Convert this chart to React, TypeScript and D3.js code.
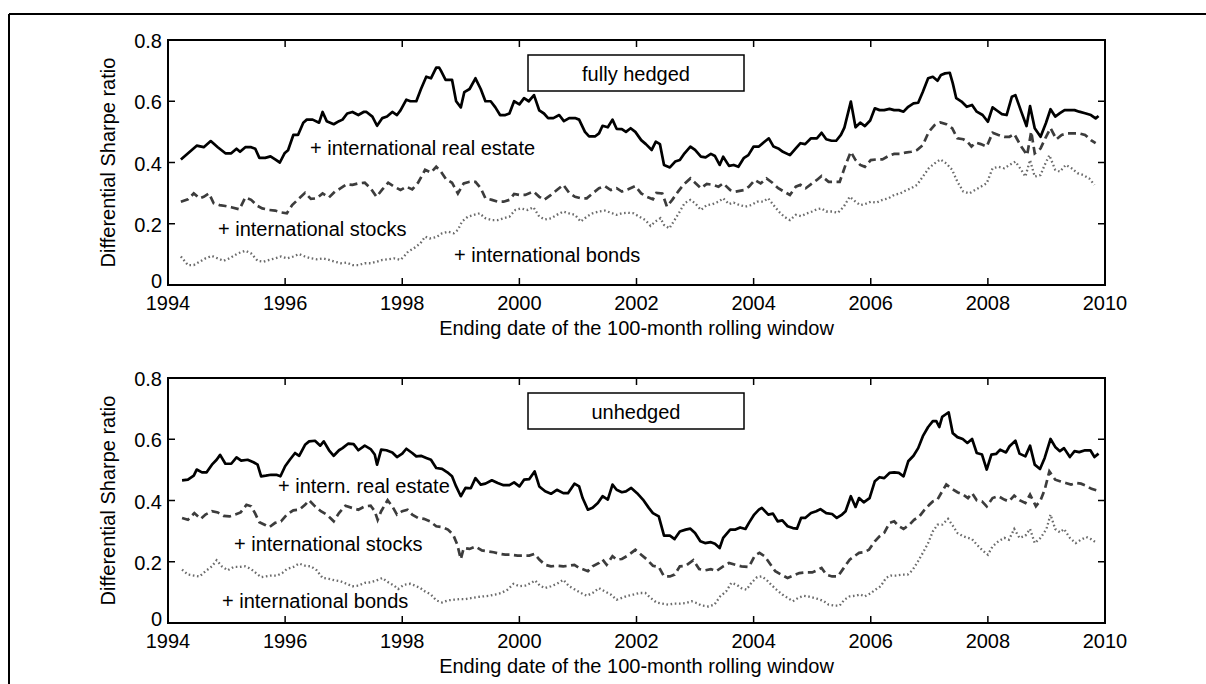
import * as d3 from "d3"

// x ticks (years) and y ticks (Sharpe ratio)
const xTicks = [1994, 1996, 1998, 2000, 2002, 2004, 2006, 2008, 2010]
const yTicks = [0, 0.2, 0.4, 0.6, 0.8]

// fully hedged panel: [ending date, differential Sharpe ratio]
const hedgedRealEstate: [number, number][] = [
  [1994.22, 0.41], [1994.49, 0.455], [1994.61, 0.45], [1994.73, 0.47], [1994.85, 0.45], [1994.98, 0.43],
  [1995.08, 0.43], [1995.17, 0.445], [1995.23, 0.435], [1995.32, 0.45], [1995.42, 0.45], [1995.49, 0.445],
  [1995.56, 0.415], [1995.66, 0.415], [1995.75, 0.42], [1995.83, 0.41], [1995.91, 0.4], [1995.99, 0.43],
  [1996.05, 0.44], [1996.14, 0.49], [1996.22, 0.49], [1996.31, 0.53], [1996.37, 0.54], [1996.47, 0.54],
  [1996.58, 0.53], [1996.64, 0.565], [1996.71, 0.535], [1996.83, 0.525], [1996.92, 0.535], [1996.98, 0.54],
  [1997.06, 0.56], [1997.15, 0.565], [1997.25, 0.555], [1997.34, 0.565], [1997.39, 0.565], [1997.49, 0.55],
  [1997.57, 0.52], [1997.66, 0.545], [1997.74, 0.55], [1997.83, 0.565], [1997.91, 0.555], [1997.97, 0.57],
  [1998.07, 0.605], [1998.14, 0.6], [1998.24, 0.6], [1998.32, 0.64], [1998.41, 0.68], [1998.49, 0.675],
  [1998.58, 0.71], [1998.63, 0.71], [1998.66, 0.7], [1998.74, 0.67], [1998.85, 0.67], [1998.92, 0.6],
  [1999.0, 0.58], [1999.06, 0.63], [1999.15, 0.64], [1999.25, 0.675], [1999.34, 0.64], [1999.42, 0.6],
  [1999.51, 0.6], [1999.59, 0.58], [1999.67, 0.555], [1999.76, 0.555], [1999.83, 0.56], [1999.91, 0.6],
  [2000.0, 0.59], [2000.08, 0.61], [2000.16, 0.6], [2000.25, 0.62], [2000.34, 0.57], [2000.42, 0.56],
  [2000.49, 0.545], [2000.58, 0.545], [2000.68, 0.555], [2000.76, 0.535], [2000.85, 0.545], [2000.95, 0.545],
  [2001.02, 0.54], [2001.12, 0.5], [2001.19, 0.485], [2001.29, 0.485], [2001.36, 0.495], [2001.42, 0.52],
  [2001.51, 0.515], [2001.59, 0.54], [2001.66, 0.51], [2001.75, 0.509], [2001.82, 0.5], [2001.9, 0.512],
  [2001.98, 0.5], [2002.08, 0.473], [2002.16, 0.46], [2002.26, 0.441], [2002.33, 0.468], [2002.4, 0.46],
  [2002.47, 0.392], [2002.57, 0.384], [2002.66, 0.403], [2002.74, 0.408], [2002.82, 0.43], [2002.92, 0.452],
  [2003.0, 0.441], [2003.1, 0.419], [2003.18, 0.417], [2003.27, 0.428], [2003.34, 0.421], [2003.42, 0.392],
  [2003.48, 0.419], [2003.58, 0.389], [2003.66, 0.392], [2003.74, 0.386], [2003.83, 0.414], [2003.91, 0.424],
  [2004.0, 0.452], [2004.09, 0.452], [2004.17, 0.465], [2004.26, 0.479], [2004.34, 0.452], [2004.42, 0.446],
  [2004.5, 0.435], [2004.62, 0.424], [2004.72, 0.446], [2004.8, 0.463], [2004.88, 0.46], [2004.98, 0.479],
  [2005.08, 0.479], [2005.16, 0.497], [2005.24, 0.476], [2005.33, 0.471], [2005.41, 0.471], [2005.49, 0.49],
  [2005.55, 0.514], [2005.66, 0.599], [2005.74, 0.515], [2005.82, 0.53], [2005.9, 0.519], [2005.99, 0.537],
  [2006.07, 0.577], [2006.15, 0.571], [2006.23, 0.571], [2006.32, 0.575], [2006.4, 0.571], [2006.48, 0.571],
  [2006.56, 0.566], [2006.64, 0.582], [2006.73, 0.593], [2006.81, 0.595], [2006.89, 0.631], [2006.98, 0.675],
  [2007.06, 0.68], [2007.14, 0.667], [2007.2, 0.686], [2007.27, 0.691], [2007.35, 0.693], [2007.4, 0.659],
  [2007.46, 0.61], [2007.55, 0.599], [2007.64, 0.582], [2007.73, 0.588], [2007.81, 0.566], [2007.91, 0.555],
  [2008.0, 0.533], [2008.08, 0.58], [2008.16, 0.569], [2008.24, 0.558], [2008.32, 0.555], [2008.41, 0.615],
  [2008.47, 0.62], [2008.57, 0.566], [2008.66, 0.519], [2008.72, 0.584], [2008.8, 0.512], [2008.9, 0.484],
  [2008.99, 0.528], [2009.07, 0.574], [2009.15, 0.55], [2009.23, 0.561], [2009.31, 0.571], [2009.4, 0.571],
  [2009.48, 0.571], [2009.56, 0.566], [2009.66, 0.561], [2009.76, 0.555], [2009.84, 0.544], [2009.89, 0.552],
]

const hedgedStocks: [number, number][] = [
  [1994.22, 0.272], [1994.34, 0.28], [1994.44, 0.299], [1994.54, 0.283], [1994.61, 0.288], [1994.7, 0.299],
  [1994.78, 0.267], [1994.88, 0.261], [1994.98, 0.258], [1995.08, 0.254], [1995.22, 0.247], [1995.32, 0.286],
  [1995.42, 0.278], [1995.53, 0.258], [1995.61, 0.25], [1995.73, 0.245], [1995.83, 0.243], [1995.93, 0.237],
  [1996.03, 0.234], [1996.12, 0.261], [1996.24, 0.283], [1996.34, 0.301], [1996.44, 0.281], [1996.54, 0.283],
  [1996.64, 0.299], [1996.75, 0.286], [1996.85, 0.305], [1996.95, 0.316], [1997.05, 0.329], [1997.15, 0.327],
  [1997.25, 0.332], [1997.36, 0.334], [1997.46, 0.316], [1997.56, 0.288], [1997.66, 0.312], [1997.76, 0.334],
  [1997.86, 0.321], [1997.97, 0.31], [1998.07, 0.321], [1998.17, 0.312], [1998.27, 0.334], [1998.39, 0.376],
  [1998.49, 0.367], [1998.58, 0.386], [1998.66, 0.37], [1998.75, 0.345], [1998.85, 0.334], [1998.95, 0.299],
  [1999.05, 0.332], [1999.15, 0.337], [1999.25, 0.337], [1999.34, 0.316], [1999.42, 0.283], [1999.53, 0.278],
  [1999.63, 0.272], [1999.73, 0.272], [1999.83, 0.278], [1999.91, 0.297], [2000.0, 0.294], [2000.1, 0.294],
  [2000.24, 0.305], [2000.34, 0.288], [2000.42, 0.278], [2000.54, 0.294], [2000.64, 0.31], [2000.75, 0.327],
  [2000.85, 0.301], [2000.95, 0.288], [2001.05, 0.283], [2001.15, 0.283], [2001.25, 0.299], [2001.36, 0.316],
  [2001.46, 0.323], [2001.56, 0.31], [2001.66, 0.316], [2001.75, 0.305], [2001.85, 0.312], [2001.98, 0.323],
  [2002.08, 0.299], [2002.18, 0.288], [2002.28, 0.28], [2002.34, 0.301], [2002.44, 0.299], [2002.52, 0.256],
  [2002.61, 0.278], [2002.71, 0.305], [2002.8, 0.327], [2002.92, 0.348], [2003.0, 0.334], [2003.1, 0.316],
  [2003.2, 0.33], [2003.3, 0.327], [2003.4, 0.321], [2003.48, 0.332], [2003.6, 0.31], [2003.69, 0.305],
  [2003.83, 0.31], [2003.92, 0.321], [2004.02, 0.343], [2004.12, 0.332], [2004.22, 0.348], [2004.32, 0.334],
  [2004.42, 0.316], [2004.52, 0.305], [2004.62, 0.294], [2004.72, 0.321], [2004.8, 0.327], [2004.89, 0.316],
  [2005.0, 0.332], [2005.08, 0.343], [2005.16, 0.356], [2005.28, 0.337], [2005.38, 0.337], [2005.47, 0.337],
  [2005.57, 0.392], [2005.66, 0.435], [2005.74, 0.408], [2005.82, 0.392], [2005.9, 0.386], [2006.0, 0.408],
  [2006.1, 0.41], [2006.2, 0.41], [2006.3, 0.421], [2006.4, 0.428], [2006.5, 0.428], [2006.59, 0.432],
  [2006.69, 0.435], [2006.79, 0.441], [2006.89, 0.457], [2006.99, 0.5], [2007.09, 0.522], [2007.19, 0.531],
  [2007.29, 0.525], [2007.39, 0.512], [2007.48, 0.479], [2007.58, 0.476], [2007.65, 0.468], [2007.72, 0.452],
  [2007.79, 0.465], [2007.88, 0.46], [2007.98, 0.452], [2008.08, 0.497], [2008.18, 0.49], [2008.28, 0.484],
  [2008.37, 0.484], [2008.45, 0.493], [2008.57, 0.452], [2008.67, 0.424], [2008.74, 0.501], [2008.8, 0.43],
  [2008.9, 0.446], [2008.98, 0.479], [2009.07, 0.512], [2009.17, 0.476], [2009.26, 0.49], [2009.36, 0.495],
  [2009.46, 0.495], [2009.56, 0.495], [2009.66, 0.49], [2009.76, 0.473], [2009.84, 0.463],
]

const hedgedBonds: [number, number][] = [
  [1994.22, 0.093], [1994.34, 0.065], [1994.44, 0.065], [1994.54, 0.076], [1994.64, 0.087], [1994.75, 0.095],
  [1994.85, 0.087], [1994.95, 0.079], [1995.05, 0.087], [1995.19, 0.103], [1995.32, 0.112], [1995.42, 0.103],
  [1995.53, 0.079], [1995.63, 0.076], [1995.73, 0.082], [1995.83, 0.087], [1995.93, 0.093], [1996.03, 0.087],
  [1996.14, 0.093], [1996.24, 0.101], [1996.34, 0.093], [1996.44, 0.087], [1996.54, 0.084], [1996.64, 0.087],
  [1996.75, 0.082], [1996.85, 0.076], [1996.95, 0.071], [1997.05, 0.073], [1997.15, 0.065], [1997.25, 0.065],
  [1997.36, 0.071], [1997.46, 0.071], [1997.56, 0.076], [1997.66, 0.082], [1997.76, 0.084], [1997.86, 0.087],
  [1997.97, 0.082], [1998.03, 0.093], [1998.1, 0.109], [1998.2, 0.12], [1998.31, 0.136], [1998.39, 0.158],
  [1998.47, 0.152], [1998.58, 0.156], [1998.68, 0.169], [1998.78, 0.174], [1998.88, 0.169], [1998.95, 0.18],
  [1999.02, 0.207], [1999.12, 0.223], [1999.22, 0.229], [1999.32, 0.234], [1999.42, 0.218], [1999.53, 0.212],
  [1999.63, 0.212], [1999.73, 0.218], [1999.83, 0.223], [1999.93, 0.245], [2000.03, 0.25], [2000.14, 0.245],
  [2000.24, 0.254], [2000.34, 0.223], [2000.44, 0.214], [2000.54, 0.218], [2000.64, 0.229], [2000.75, 0.24],
  [2000.85, 0.234], [2000.95, 0.229], [2001.05, 0.207], [2001.15, 0.223], [2001.25, 0.234], [2001.36, 0.24],
  [2001.46, 0.243], [2001.56, 0.236], [2001.66, 0.229], [2001.75, 0.234], [2001.85, 0.236], [2001.95, 0.234],
  [2002.05, 0.223], [2002.15, 0.212], [2002.24, 0.193], [2002.32, 0.207], [2002.41, 0.218], [2002.47, 0.196],
  [2002.56, 0.185], [2002.65, 0.212], [2002.74, 0.24], [2002.82, 0.267], [2002.92, 0.278], [2003.0, 0.267],
  [2003.1, 0.245], [2003.2, 0.261], [2003.3, 0.264], [2003.4, 0.272], [2003.48, 0.283], [2003.58, 0.264],
  [2003.66, 0.269], [2003.76, 0.261], [2003.86, 0.256], [2003.96, 0.261], [2004.06, 0.272], [2004.16, 0.272],
  [2004.25, 0.283], [2004.34, 0.261], [2004.43, 0.24], [2004.52, 0.223], [2004.62, 0.212], [2004.72, 0.229],
  [2004.81, 0.225], [2004.91, 0.234], [2005.0, 0.24], [2005.08, 0.247], [2005.16, 0.25], [2005.24, 0.24],
  [2005.34, 0.24], [2005.44, 0.236], [2005.54, 0.256], [2005.64, 0.288], [2005.74, 0.272], [2005.82, 0.261],
  [2005.9, 0.264], [2006.0, 0.272], [2006.1, 0.269], [2006.2, 0.278], [2006.3, 0.283], [2006.4, 0.294],
  [2006.5, 0.299], [2006.59, 0.308], [2006.69, 0.316], [2006.79, 0.327], [2006.89, 0.354], [2006.99, 0.381],
  [2007.09, 0.397], [2007.19, 0.41], [2007.29, 0.397], [2007.39, 0.376], [2007.48, 0.337], [2007.58, 0.305],
  [2007.68, 0.299], [2007.78, 0.31], [2007.88, 0.321], [2007.98, 0.332], [2008.08, 0.381], [2008.18, 0.386],
  [2008.28, 0.381], [2008.37, 0.392], [2008.47, 0.403], [2008.57, 0.376], [2008.64, 0.354], [2008.72, 0.408],
  [2008.8, 0.354], [2008.9, 0.359], [2008.97, 0.392], [2009.05, 0.424], [2009.15, 0.376], [2009.23, 0.37],
  [2009.33, 0.392], [2009.43, 0.381], [2009.53, 0.365], [2009.63, 0.359], [2009.73, 0.348], [2009.82, 0.327],
]

// unhedged panel
const unhedgedRealEstate: [number, number][] = [
  [1994.24, 0.466], [1994.34, 0.468], [1994.44, 0.481], [1994.49, 0.501], [1994.58, 0.492], [1994.66, 0.492],
  [1994.75, 0.517], [1994.83, 0.533], [1994.89, 0.549], [1994.98, 0.52], [1995.08, 0.52], [1995.17, 0.541],
  [1995.25, 0.53], [1995.36, 0.533], [1995.46, 0.525], [1995.53, 0.517], [1995.59, 0.479], [1995.67, 0.481],
  [1995.76, 0.484], [1995.85, 0.484], [1995.92, 0.479], [1996.0, 0.512], [1996.08, 0.533], [1996.17, 0.555],
  [1996.24, 0.546], [1996.34, 0.582], [1996.41, 0.593], [1996.51, 0.595], [1996.6, 0.579], [1996.66, 0.593],
  [1996.75, 0.564], [1996.83, 0.546], [1996.92, 0.564], [1996.98, 0.571], [1997.08, 0.586], [1997.17, 0.584],
  [1997.25, 0.564], [1997.36, 0.579], [1997.46, 0.568], [1997.53, 0.55], [1997.57, 0.517], [1997.64, 0.566],
  [1997.73, 0.564], [1997.83, 0.557], [1997.91, 0.542], [1998.0, 0.553], [1998.07, 0.569], [1998.17, 0.555],
  [1998.24, 0.544], [1998.32, 0.546], [1998.41, 0.539], [1998.49, 0.533], [1998.58, 0.506], [1998.68, 0.503],
  [1998.77, 0.492], [1998.85, 0.479], [1998.92, 0.446], [1999.0, 0.414], [1999.08, 0.441], [1999.17, 0.44],
  [1999.25, 0.473], [1999.34, 0.452], [1999.42, 0.455], [1999.53, 0.466], [1999.63, 0.457], [1999.73, 0.45],
  [1999.83, 0.45], [1999.91, 0.459], [2000.0, 0.446], [2000.08, 0.468], [2000.17, 0.47], [2000.26, 0.495],
  [2000.34, 0.446], [2000.44, 0.43], [2000.54, 0.422], [2000.64, 0.435], [2000.75, 0.424], [2000.83, 0.424],
  [2000.94, 0.455], [2001.02, 0.446], [2001.08, 0.408], [2001.17, 0.37], [2001.25, 0.376], [2001.34, 0.392],
  [2001.42, 0.414], [2001.51, 0.403], [2001.59, 0.452], [2001.66, 0.435], [2001.75, 0.427], [2001.82, 0.43],
  [2001.91, 0.441], [2002.01, 0.424], [2002.11, 0.403], [2002.21, 0.376], [2002.28, 0.359], [2002.38, 0.348],
  [2002.47, 0.285], [2002.57, 0.285], [2002.65, 0.274], [2002.74, 0.299], [2002.84, 0.305], [2002.92, 0.308],
  [2003.0, 0.294], [2003.09, 0.267], [2003.17, 0.261], [2003.27, 0.264], [2003.34, 0.259], [2003.42, 0.245],
  [2003.48, 0.278], [2003.6, 0.305], [2003.69, 0.305], [2003.77, 0.312], [2003.86, 0.307], [2003.92, 0.327],
  [2004.01, 0.354], [2004.09, 0.37], [2004.14, 0.376], [2004.25, 0.354], [2004.33, 0.357], [2004.41, 0.332],
  [2004.49, 0.335], [2004.58, 0.316], [2004.67, 0.31], [2004.74, 0.308], [2004.81, 0.343], [2004.88, 0.343],
  [2004.98, 0.359], [2005.07, 0.365], [2005.14, 0.372], [2005.24, 0.359], [2005.34, 0.356], [2005.42, 0.343],
  [2005.51, 0.354], [2005.57, 0.365], [2005.66, 0.414], [2005.74, 0.379], [2005.8, 0.408], [2005.88, 0.394],
  [2005.98, 0.408], [2006.07, 0.463], [2006.15, 0.476], [2006.23, 0.473], [2006.32, 0.49], [2006.4, 0.492],
  [2006.48, 0.49], [2006.56, 0.479], [2006.64, 0.528], [2006.73, 0.546], [2006.81, 0.571], [2006.89, 0.61],
  [2006.98, 0.64], [2007.06, 0.659], [2007.12, 0.659], [2007.17, 0.64], [2007.22, 0.673], [2007.27, 0.68],
  [2007.33, 0.688], [2007.4, 0.62], [2007.48, 0.607], [2007.57, 0.601], [2007.65, 0.588], [2007.73, 0.601],
  [2007.81, 0.555], [2007.9, 0.55], [2007.98, 0.501], [2008.06, 0.55], [2008.14, 0.552], [2008.21, 0.566],
  [2008.31, 0.557], [2008.37, 0.577], [2008.47, 0.595], [2008.54, 0.553], [2008.64, 0.544], [2008.72, 0.579],
  [2008.8, 0.517], [2008.89, 0.503], [2008.97, 0.539], [2009.07, 0.601], [2009.15, 0.575], [2009.23, 0.561],
  [2009.3, 0.571], [2009.4, 0.542], [2009.48, 0.561], [2009.56, 0.558], [2009.66, 0.564], [2009.75, 0.564],
  [2009.82, 0.542], [2009.89, 0.553],
]

const unhedgedStocks: [number, number][] = [
  [1994.24, 0.343], [1994.34, 0.337], [1994.45, 0.359], [1994.56, 0.34], [1994.64, 0.354], [1994.75, 0.365],
  [1994.85, 0.361], [1994.95, 0.35], [1995.05, 0.348], [1995.15, 0.354], [1995.24, 0.361], [1995.34, 0.386],
  [1995.42, 0.381], [1995.49, 0.357], [1995.56, 0.329], [1995.65, 0.321], [1995.73, 0.313], [1995.83, 0.327],
  [1995.93, 0.332], [1996.03, 0.354], [1996.14, 0.368], [1996.24, 0.37], [1996.34, 0.386], [1996.41, 0.401],
  [1996.51, 0.381], [1996.61, 0.365], [1996.71, 0.354], [1996.83, 0.332], [1996.92, 0.359], [1997.03, 0.383],
  [1997.14, 0.376], [1997.25, 0.37], [1997.36, 0.381], [1997.46, 0.383], [1997.53, 0.365], [1997.58, 0.337],
  [1997.64, 0.365], [1997.75, 0.401], [1997.83, 0.381], [1997.91, 0.354], [1998.0, 0.365], [1998.09, 0.37],
  [1998.17, 0.354], [1998.27, 0.343], [1998.37, 0.34], [1998.47, 0.332], [1998.58, 0.316], [1998.68, 0.313],
  [1998.78, 0.305], [1998.87, 0.288], [1998.94, 0.256], [1999.0, 0.209], [1999.05, 0.245], [1999.15, 0.242],
  [1999.25, 0.25], [1999.36, 0.237], [1999.46, 0.234], [1999.56, 0.231], [1999.66, 0.226], [1999.76, 0.223],
  [1999.86, 0.223], [1999.97, 0.22], [2000.07, 0.22], [2000.17, 0.22], [2000.26, 0.226], [2000.34, 0.207],
  [2000.44, 0.19], [2000.54, 0.185], [2000.64, 0.187], [2000.75, 0.185], [2000.85, 0.187], [2000.94, 0.19],
  [2001.02, 0.18], [2001.17, 0.169], [2001.25, 0.185], [2001.36, 0.196], [2001.42, 0.207], [2001.49, 0.19],
  [2001.59, 0.218], [2001.66, 0.207], [2001.75, 0.209], [2001.85, 0.22], [2001.98, 0.239], [2002.08, 0.223],
  [2002.18, 0.207], [2002.28, 0.187], [2002.38, 0.183], [2002.47, 0.152], [2002.57, 0.152], [2002.65, 0.158],
  [2002.74, 0.185], [2002.84, 0.187], [2002.97, 0.205], [2003.07, 0.176], [2003.17, 0.172], [2003.27, 0.176],
  [2003.36, 0.169], [2003.48, 0.185], [2003.58, 0.196], [2003.69, 0.19], [2003.79, 0.185], [2003.92, 0.183],
  [2004.02, 0.22], [2004.1, 0.229], [2004.19, 0.218], [2004.27, 0.196], [2004.37, 0.169], [2004.47, 0.158],
  [2004.58, 0.147], [2004.68, 0.155], [2004.78, 0.163], [2004.88, 0.165], [2005.0, 0.165], [2005.08, 0.172],
  [2005.16, 0.18], [2005.24, 0.158], [2005.34, 0.152], [2005.44, 0.152], [2005.54, 0.18], [2005.64, 0.207],
  [2005.72, 0.218], [2005.8, 0.229], [2005.88, 0.231], [2005.97, 0.239], [2006.07, 0.267], [2006.15, 0.283],
  [2006.23, 0.294], [2006.32, 0.327], [2006.4, 0.332], [2006.48, 0.316], [2006.56, 0.307], [2006.66, 0.321],
  [2006.74, 0.337], [2006.83, 0.348], [2006.92, 0.37], [2007.0, 0.386], [2007.06, 0.397], [2007.14, 0.403],
  [2007.22, 0.43], [2007.29, 0.452], [2007.39, 0.438], [2007.48, 0.427], [2007.58, 0.419], [2007.66, 0.408],
  [2007.73, 0.424], [2007.81, 0.401], [2007.9, 0.397], [2007.98, 0.381], [2008.08, 0.408], [2008.18, 0.414],
  [2008.28, 0.403], [2008.36, 0.397], [2008.45, 0.416], [2008.54, 0.401], [2008.64, 0.392], [2008.72, 0.419],
  [2008.82, 0.381], [2008.9, 0.401], [2008.97, 0.435], [2009.05, 0.495], [2009.15, 0.468], [2009.23, 0.463],
  [2009.33, 0.457], [2009.42, 0.452], [2009.51, 0.457], [2009.59, 0.455], [2009.68, 0.448], [2009.77, 0.438],
  [2009.86, 0.433],
]

const unhedgedBonds: [number, number][] = [
  [1994.24, 0.174], [1994.34, 0.158], [1994.44, 0.155], [1994.54, 0.152], [1994.64, 0.169], [1994.75, 0.185],
  [1994.83, 0.205], [1994.92, 0.185], [1995.02, 0.172], [1995.12, 0.183], [1995.22, 0.183], [1995.32, 0.185],
  [1995.42, 0.176], [1995.49, 0.165], [1995.59, 0.15], [1995.67, 0.152], [1995.76, 0.155], [1995.86, 0.155],
  [1995.95, 0.163], [1996.03, 0.176], [1996.14, 0.183], [1996.24, 0.194], [1996.34, 0.187], [1996.44, 0.185],
  [1996.54, 0.172], [1996.64, 0.147], [1996.75, 0.144], [1996.85, 0.139], [1996.95, 0.136], [1997.05, 0.128],
  [1997.15, 0.12], [1997.25, 0.122], [1997.36, 0.131], [1997.46, 0.133], [1997.56, 0.139], [1997.66, 0.147],
  [1997.76, 0.133], [1997.86, 0.122], [1997.93, 0.111], [1998.03, 0.125], [1998.14, 0.128], [1998.22, 0.122],
  [1998.31, 0.114], [1998.39, 0.103], [1998.49, 0.093], [1998.58, 0.074], [1998.68, 0.067], [1998.78, 0.074],
  [1998.88, 0.076], [1998.98, 0.078], [1999.08, 0.078], [1999.19, 0.082], [1999.29, 0.085], [1999.39, 0.087],
  [1999.49, 0.089], [1999.59, 0.093], [1999.69, 0.098], [1999.8, 0.109], [1999.9, 0.128], [2000.0, 0.12],
  [2000.1, 0.122], [2000.2, 0.131], [2000.27, 0.139], [2000.35, 0.122], [2000.44, 0.114], [2000.54, 0.12],
  [2000.64, 0.128], [2000.75, 0.141], [2000.85, 0.12], [2000.95, 0.109], [2001.05, 0.098], [2001.15, 0.089],
  [2001.25, 0.098], [2001.36, 0.114], [2001.46, 0.103], [2001.56, 0.093], [2001.66, 0.076], [2001.75, 0.082],
  [2001.85, 0.089], [2001.95, 0.093], [2002.05, 0.098], [2002.15, 0.098], [2002.24, 0.082], [2002.34, 0.067],
  [2002.44, 0.063], [2002.54, 0.06], [2002.64, 0.063], [2002.74, 0.063], [2002.84, 0.065], [2002.94, 0.071],
  [2003.03, 0.065], [2003.11, 0.057], [2003.23, 0.054], [2003.33, 0.06], [2003.43, 0.087], [2003.53, 0.103],
  [2003.62, 0.131], [2003.71, 0.125], [2003.79, 0.114], [2003.88, 0.109], [2003.96, 0.131], [2004.06, 0.15],
  [2004.14, 0.152], [2004.22, 0.141], [2004.3, 0.125], [2004.39, 0.109], [2004.49, 0.093], [2004.58, 0.082],
  [2004.67, 0.071], [2004.76, 0.082], [2004.85, 0.089], [2004.93, 0.087], [2005.03, 0.082], [2005.11, 0.078],
  [2005.2, 0.071], [2005.28, 0.06], [2005.38, 0.057], [2005.47, 0.057], [2005.55, 0.076], [2005.64, 0.087],
  [2005.74, 0.089], [2005.82, 0.093], [2005.9, 0.087], [2005.99, 0.096], [2006.08, 0.109], [2006.17, 0.12],
  [2006.26, 0.147], [2006.34, 0.155], [2006.43, 0.155], [2006.53, 0.158], [2006.63, 0.158], [2006.71, 0.172],
  [2006.79, 0.196], [2006.89, 0.229], [2006.98, 0.261], [2007.06, 0.299], [2007.14, 0.321], [2007.22, 0.321],
  [2007.32, 0.34], [2007.4, 0.318], [2007.48, 0.294], [2007.58, 0.283], [2007.66, 0.278], [2007.73, 0.274],
  [2007.81, 0.256], [2007.91, 0.237], [2008.0, 0.223], [2008.08, 0.25], [2008.18, 0.267], [2008.28, 0.278],
  [2008.36, 0.272], [2008.45, 0.307], [2008.54, 0.278], [2008.64, 0.285], [2008.72, 0.307], [2008.8, 0.261],
  [2008.9, 0.278], [2009.0, 0.307], [2009.07, 0.354], [2009.15, 0.307], [2009.23, 0.296], [2009.3, 0.307],
  [2009.4, 0.278], [2009.5, 0.261], [2009.59, 0.272], [2009.68, 0.281], [2009.76, 0.274], [2009.86, 0.261],
]

const FONT = "'Liberation Sans', Arial, Helvetica, sans-serif"
const plotLeft = 168
const plotRight = 1105
const plotH = 245

interface Label {
  text: string
  x: number
  dy: number
}

interface PanelProps {
  top: number
  title: string
  realEstate: [number, number][]
  stocks: [number, number][]
  bonds: [number, number][]
  labels: Label[]
}

const Panel = (props: PanelProps) => {
  const { top } = props
  const bottom = top + plotH
  const x = d3.scaleLinear().domain([1994, 2010]).range([plotLeft, plotRight])
  const y = d3.scaleLinear().domain([0, 0.8]).range([bottom, top])
  const line = d3
    .line<[number, number]>()
    .x((d) => x(d[0]))
    .y((d) => y(d[1]))

  return (
    <g fontFamily={FONT} fontSize={20} fill="#000">
      {/* series */}
      <path d={line(props.bonds) || ""} fill="none" stroke="#6b6b6b" strokeWidth={2.3} strokeDasharray="1.6,2.6" />
      <path d={line(props.stocks) || ""} fill="none" stroke="#3c3c3c" strokeWidth={2.7} strokeDasharray="8,4.5" />
      <path d={line(props.realEstate) || ""} fill="none" stroke="#000" strokeWidth={2.7} strokeLinejoin="round" />

      {/* box */}
      <rect x={plotLeft} y={top} width={plotRight - plotLeft} height={plotH} fill="none" stroke="#000" strokeWidth={2} />

      {/* x ticks, inward top and bottom */}
      {xTicks.map((t) => (
        <g key={"x" + t}>
          <line x1={x(t)} x2={x(t)} y1={bottom} y2={bottom - 7} stroke="#000" strokeWidth={1.5} />
          <line x1={x(t)} x2={x(t)} y1={top} y2={top + 7} stroke="#000" strokeWidth={1.5} />
          <text x={x(t)} y={bottom + 25} textAnchor="middle">
            {t}
          </text>
        </g>
      ))}

      {/* y ticks, inward left and right */}
      {yTicks.map((t) => (
        <g key={"y" + t}>
          <line x1={plotLeft} x2={plotLeft + 7} y1={y(t)} y2={y(t)} stroke="#000" strokeWidth={1.5} />
          <line x1={plotRight} x2={plotRight - 7} y1={y(t)} y2={y(t)} stroke="#000" strokeWidth={1.5} />
          <text x={plotLeft - 6} y={y(t) + (t === 0 ? 3 : 8)} textAnchor="end">
            {t === 0 ? "0" : t.toFixed(1)}
          </text>
        </g>
      ))}

      {/* legend box */}
      <rect x={528} y={top + 15} width={216} height={36} fill="#fff" stroke="#000" strokeWidth={1.5} />
      <text x={636} y={top + 41} textAnchor="middle">
        {props.title}
      </text>

      {/* series labels */}
      {props.labels.map((l) => (
        <text key={l.text} x={l.x} y={top + l.dy}>
          {l.text}
        </text>
      ))}

      {/* axis titles */}
      <text x={(plotLeft + plotRight) / 2} y={bottom + 50} textAnchor="middle">
        Ending date of the 100-month rolling window
      </text>
      <text transform={`translate(115,${top + plotH / 2}) rotate(-90)`} textAnchor="middle">
        Differential Sharpe ratio
      </text>
    </g>
  )
}

const App = () => {
  return (
    <svg
      width={1206}
      height={684}
      style={{ position: "absolute", left: 0, top: 0, background: "#fff" }}
    >
      <rect x={0} y={0} width={1206} height={684} fill="#fff" />
      {/* outer frame */}
      <line x1={9} x2={1206} y1={14} y2={14} stroke="#000" strokeWidth={2} />
      <line x1={9} x2={9} y1={14} y2={684} stroke="#000" strokeWidth={2} />

      <Panel
        top={40}
        title="fully hedged"
        realEstate={hedgedRealEstate}
        stocks={hedgedStocks}
        bonds={hedgedBonds}
        labels={[
          { text: "+ international real estate", x: 310, dy: 115 },
          { text: "+ international stocks", x: 218, dy: 196 },
          { text: "+ international bonds", x: 454, dy: 222 },
        ]}
      />
      <Panel
        top={378}
        title="unhedged"
        realEstate={unhedgedRealEstate}
        stocks={unhedgedStocks}
        bonds={unhedgedBonds}
        labels={[
          { text: "+ intern. real estate", x: 278, dy: 115 },
          { text: "+ international stocks", x: 234, dy: 173 },
          { text: "+ international bonds", x: 222, dy: 230 },
        ]}
      />
    </svg>
  )
}

export default App
